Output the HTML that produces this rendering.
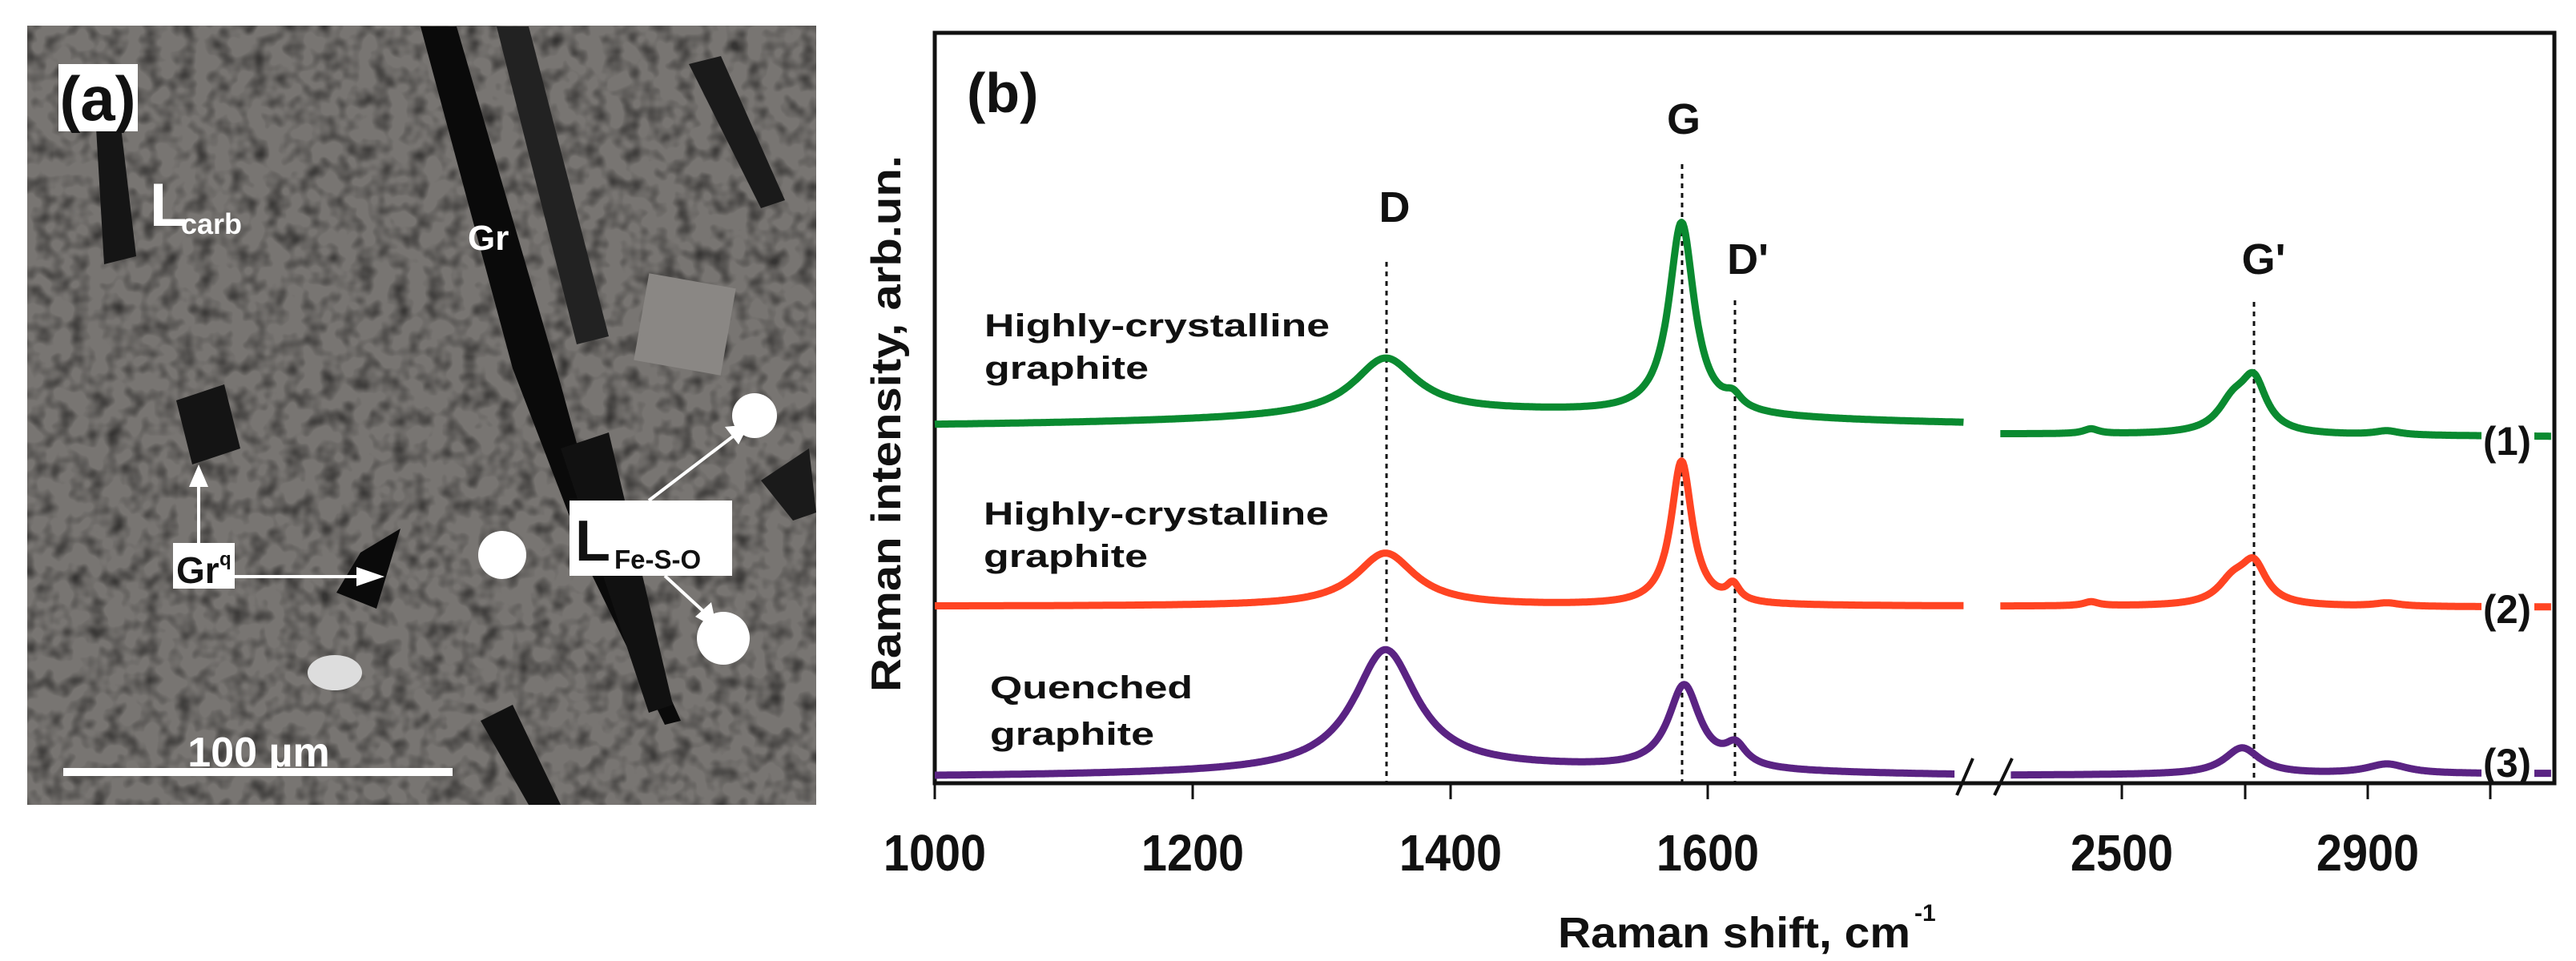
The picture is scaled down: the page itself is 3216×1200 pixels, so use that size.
<!DOCTYPE html>
<html><head><meta charset="utf-8"><style>
html,body{margin:0;padding:0;background:#fff;}
svg{display:block;font-family:"Liberation Sans",sans-serif;}
</style></head><body>
<svg id="s" width="3216" height="1200" viewBox="0 0 3216 1200" xmlns="http://www.w3.org/2000/svg">
<defs>
<filter id="tex" x="0" y="0" width="1" height="1">
<feTurbulence type="fractalNoise" baseFrequency="0.045" numOctaves="2" seed="4" result="n"/>
<feColorMatrix in="n" type="matrix" values="0 0 0 0 0  0 0 0 0 0  0 0 0 0 0  0 0 0 -2.2 1.25" result="d"/>
<feComposite in="d" in2="SourceGraphic" operator="in"/>
</filter>
<clipPath id="cp"><rect x="34" y="32" width="985" height="973"/></clipPath>
</defs>
<!-- SEM image -->
<g clip-path="url(#cp)">
<rect x="34" y="32" width="985" height="973" fill="#787572"/>
<rect x="34" y="32" width="985" height="973" fill="#111" filter="url(#tex)" opacity="0.55"/>
<polygon points="525,33 570,33 700,480 760,700 850,900 830,905 740,720 640,460" fill="#0a0a0a"/>
<polygon points="620,33 660,33 760,420 720,430" fill="#222"/>
<polygon points="700,560 760,540 840,880 810,890" fill="#111"/>
<polygon points="450,690 500,660 470,760 420,740" fill="#0a0a0a"/>
<polygon points="120,160 150,150 170,320 130,330" fill="#151515"/>
<polygon points="220,500 280,480 300,560 240,580" fill="#141414"/>
<polygon points="860,80 900,70 980,250 950,260" fill="#1a1a1a"/>
<polygon points="950,600 1010,560 1019,640 990,650" fill="#1a1a1a"/>
<polygon points="600,900 640,880 700,1005 660,1005" fill="#111"/>
<rect x="800" y="350" width="110" height="110" fill="#8a8784" transform="rotate(10 855 405)"/>
<circle cx="942" cy="519" r="28" fill="#fff"/>
<circle cx="627" cy="693" r="30" fill="#fff"/>
<circle cx="903" cy="797" r="33" fill="#fff"/>
<ellipse cx="418" cy="840" rx="34" ry="22" fill="#ddd"/>
<rect x="73" y="80" width="99" height="84" fill="#fff"/>
<text x="122" y="150" text-anchor="middle" font-size="78" font-weight="bold" fill="#111">(a)</text>
<text x="187" y="282" font-size="76" font-weight="bold" fill="#fff">L</text>
<text x="226" y="292" font-size="36" font-weight="bold" fill="#fff">carb</text>
<text x="584" y="312" font-size="44" font-weight="bold" fill="#fff">Gr</text>
<!-- arrows -->
<line x1="248" y1="678" x2="248" y2="600" stroke="#fff" stroke-width="4"/>
<polygon points="236,608 260,608 248,580" fill="#fff"/>
<line x1="293" y1="720" x2="450" y2="720" stroke="#fff" stroke-width="4"/>
<polygon points="445,708 445,732 480,720" fill="#fff"/>
<line x1="810" y1="625" x2="915" y2="545" stroke="#fff" stroke-width="4"/>
<polygon points="905,533 922,555 935,530" fill="#fff"/>
<line x1="830" y1="719" x2="880" y2="765" stroke="#fff" stroke-width="4"/>
<polygon points="868,770 888,752 895,785" fill="#fff"/>
<rect x="216" y="678" width="77" height="57" fill="#fff"/>
<text x="220" y="728" font-size="46" font-weight="bold" fill="#111">Gr</text>
<text x="274" y="706" font-size="24" font-weight="bold" fill="#111">q</text>
<rect x="711" y="625" width="203" height="94" fill="#fff"/>
<text x="718" y="700" font-size="72" font-weight="bold" fill="#111">L</text>
<text x="767" y="710" font-size="33" font-weight="bold" fill="#111">Fe-S-O</text>
<rect x="79" y="959" width="486" height="10" fill="#fff"/>
<text x="323" y="957" text-anchor="middle" font-size="52" font-weight="bold" fill="#fff">100 µm</text>
</g>
<!-- y axis label -->
<text transform="translate(1124,529) rotate(-90)" text-anchor="middle" font-size="52" font-weight="bold" fill="#111" textLength="670" lengthAdjust="spacingAndGlyphs">Raman intensity, arb.un.</text>
<!-- frame -->
<rect x="1167" y="41" width="2022" height="937" fill="none" stroke="#111" stroke-width="5"/>
<g stroke="#111" stroke-width="3">
<line x1="1167" y1="978" x2="1167" y2="998"/>
<line x1="1489" y1="978" x2="1489" y2="998"/>
<line x1="1811" y1="978" x2="1811" y2="998"/>
<line x1="2132" y1="978" x2="2132" y2="998"/>
<line x1="2649" y1="978" x2="2649" y2="998"/>
<line x1="2803" y1="978" x2="2803" y2="998"/>
<line x1="2956" y1="978" x2="2956" y2="998"/>
<line x1="3109" y1="978" x2="3109" y2="998"/>
</g>
<g font-size="64" font-weight="bold" fill="#111" text-anchor="middle">
<text x="1167" y="1087" transform="translate(1167,0) scale(0.9,1) translate(-1167,0)">1000</text>
<text x="1489" y="1087" transform="translate(1489,0) scale(0.9,1) translate(-1489,0)">1200</text>
<text x="1811" y="1087" transform="translate(1811,0) scale(0.9,1) translate(-1811,0)">1400</text>
<text x="2132" y="1087" transform="translate(2132,0) scale(0.9,1) translate(-2132,0)">1600</text>
<text x="2649" y="1087" transform="translate(2649,0) scale(0.9,1) translate(-2649,0)">2500</text>
<text x="2956" y="1087" transform="translate(2956,0) scale(0.9,1) translate(-2956,0)">2900</text>
</g>
<text x="1945" y="1183" font-size="54" font-weight="bold" fill="#111" textLength="440" lengthAdjust="spacingAndGlyphs">Raman shift, cm</text>
<text x="2390" y="1150" font-size="30" font-weight="bold" fill="#111">-1</text>
<text x="1207" y="140" font-size="70" font-weight="bold" fill="#111">(b)</text>
<g font-size="54" font-weight="bold" fill="#111" text-anchor="middle">
<text x="1741" y="277">D</text>
<text x="2102" y="167">G</text>
<text x="2182" y="342">D'</text>
<text x="2826" y="342">G'</text>
</g>
<g font-size="40" font-weight="bold" fill="#111">
<text x="1229" y="420" textLength="431" lengthAdjust="spacingAndGlyphs">Highly-crystalline</text>
<text x="1229" y="473" textLength="205" lengthAdjust="spacingAndGlyphs">graphite</text>
<text x="1228" y="655" textLength="431" lengthAdjust="spacingAndGlyphs">Highly-crystalline</text>
<text x="1228" y="708" textLength="205" lengthAdjust="spacingAndGlyphs">graphite</text>
<text x="1236" y="872" textLength="253" lengthAdjust="spacingAndGlyphs">Quenched</text>
<text x="1236" y="930" textLength="205" lengthAdjust="spacingAndGlyphs">graphite</text>
</g>
<g stroke="#111" stroke-width="3" stroke-dasharray="6,6">
<line x1="1731" y1="327" x2="1731" y2="976"/>
<line x1="2100" y1="205" x2="2100" y2="976"/>
<line x1="2166" y1="375" x2="2166" y2="976"/>
<line x1="2814" y1="377" x2="2814" y2="976"/>
</g>
<g id="curves" fill="none" stroke-width="9" stroke-linejoin="round" stroke-linecap="butt"></g>
<g stroke="#111" stroke-width="4">
<line x1="2443" y1="993" x2="2463" y2="947"/>
<line x1="2490" y1="993" x2="2512" y2="947"/>
</g>
<rect x="3098" y="515" width="66" height="70" fill="#fff"/>
<rect x="3098" y="725" width="66" height="70" fill="#fff"/>
<rect x="3098" y="920" width="66" height="55" fill="#fff"/>
<g font-size="50" font-weight="bold" fill="#111">
<text x="3100" y="568" textLength="60" lengthAdjust="spacingAndGlyphs">(1)</text>
<text x="3100" y="778" textLength="60" lengthAdjust="spacingAndGlyphs">(2)</text>
<text x="3100" y="970" textLength="60" lengthAdjust="spacingAndGlyphs">(3)</text>
</g>
</svg>
<script>
(function(){
function L(c,p){return p[1]/(1+Math.pow((c-p[0])/p[2],2));}
function xl(c){return 1167+(c-1000)*1.6075;}
function xr(c){return 2649+(c-2500)*0.77;}
var series=[
 {col:"#0a8a30",
  left:{b0:535,b1:535,pk:[[1450,20,250],[1350,70,30],[1580,240,12],[1620,15,8]],c0:1000,c1:1799},
  right:{b0:542,b1:545,pk:[[2450,6,15],[2714,62,25],[2680,35,30],[2930,5,25]],c0:2303,c1:3196}},
 {col:"#ff4422",
  left:{b0:757,b1:757,pk:[[1350,66,28],[1580,180,10],[1620,20,6]],c0:1000,c1:1799},
  right:{b0:757,b1:758,pk:[[2450,5,15],[2714,48,25],[2680,28,30],[2930,4,25]],c0:2303,c1:3196}},
 {col:"#5a2383",
  left:{b0:972,b1:972,pk:[[1450,12,250],[1350,150,30],[1582,104,15],[1622,25,10]],c0:1000,c1:1792},
  right:{b0:968,b1:966,pk:[[2695,33,35],[2930,12,40]],c0:2320,c1:3196}}
];
var g=document.getElementById("curves"),ns="http://www.w3.org/2000/svg";
series.forEach(function(s){
 [["left",xl],["right",xr]].forEach(function(pair){
  var seg=s[pair[0]],fx=pair[1],d="";
  for(var c=seg.c0;c<=seg.c1;c+=1){
   var t=(c-seg.c0)/(seg.c1-seg.c0),y=seg.b0+(seg.b1-seg.b0)*t;
   seg.pk.forEach(function(p){y-=L(c,p);});
   d+=(d?"L":"M")+fx(c).toFixed(1)+","+y.toFixed(1);
  }
  var p=document.createElementNS(ns,"path");
  p.setAttribute("d",d);p.setAttribute("stroke",s.col);g.appendChild(p);
 });
});
})();
</script>
</body></html>
